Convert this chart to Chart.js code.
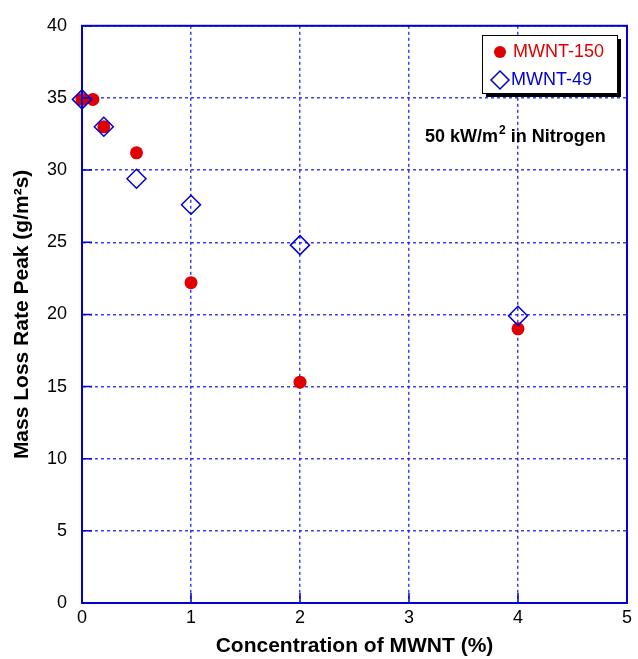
<!DOCTYPE html>
<html>
<head>
<meta charset="utf-8">
<script src="https://cdn.jsdelivr.net/npm/chart.js@4"></script>
<style>
  html, body { margin: 0; padding: 0; background: #fff; }
  #wrap { width: 638px; height: 659px; }
</style>
</head>
<body>
<div id="wrap"><canvas id="myChart" width="638" height="659"></canvas></div>
<script>
// data
const concA = [0, 0.1, 0.2, 0.5, 1, 2, 4];
const mlrA = [34.9, 34.9, 33.0, 31.2, 22.2, 15.3, 19.0];
const concB = [0, 0.2, 0.5, 1, 2, 4];
const mlrB = [34.9, 33.0, 29.4, 27.6, 24.8, 19.9];
const seriesNames = ['MWNT-150', 'MWNT-49'];
const xTicks = [0, 1, 2, 3, 4, 5];
const yTicks = [0, 5, 10, 15, 20, 25, 30, 35, 40];

const RED = '#e00000';
const BLUE = '#0000d0';
const GRID = 'rgba(30,30,230,0.85)';
const FONT = 'Arial, "Liberation Sans", Helvetica, sans-serif';

function toPoints(xs, ys) {
    return xs.map((x, i) => ({ x: x, y: ys[i] }));
}

// frame, inner tick marks, legend box and note
const extras = {
    id: 'extras',
    afterDraw(chart) {
        const ctx = chart.ctx;
        const a = chart.chartArea;
        const xs = chart.scales.x, ys = chart.scales.y;
        ctx.save();
        ctx.strokeStyle = BLUE;
        ctx.lineWidth = 2;
        ctx.setLineDash([]);
        ctx.strokeRect(a.left, a.top, a.right - a.left, a.bottom - a.top);
        ctx.beginPath();
        yTicks.forEach(v => {
            const py = ys.getPixelForValue(v);
            ctx.moveTo(a.left, py); ctx.lineTo(a.left + 10, py);
        });
        xTicks.forEach(v => {
            const px = xs.getPixelForValue(v);
            ctx.moveTo(px, a.bottom); ctx.lineTo(px, a.bottom - 10);
        });
        ctx.lineWidth = 1.5;
        ctx.stroke();

        // legend
        const lx = 482, ly = 35, lw = 135, lh = 58;
        ctx.fillStyle = '#000';
        ctx.fillRect(lx + 4, ly + 4, lw, lh);
        ctx.fillStyle = '#fff';
        ctx.fillRect(lx, ly, lw, lh);
        ctx.strokeStyle = '#000';
        ctx.lineWidth = 1;
        ctx.strokeRect(lx + 0.5, ly + 0.5, lw, lh);

        ctx.fillStyle = RED;
        ctx.beginPath();
        ctx.arc(lx + 18, ly + 17, 6, 0, Math.PI * 2);
        ctx.fill();
        ctx.strokeStyle = BLUE;
        ctx.lineWidth = 1.5;
        ctx.beginPath();
        const dx = lx + 18, dy = ly + 45, r = 9;
        ctx.moveTo(dx, dy - r); ctx.lineTo(dx + r, dy); ctx.lineTo(dx, dy + r); ctx.lineTo(dx - r, dy); ctx.closePath();
        ctx.stroke();

        ctx.font = '18px ' + FONT;
        ctx.textBaseline = 'middle';
        ctx.textAlign = 'left';
        ctx.fillStyle = RED;
        ctx.fillText(seriesNames[0], lx + 31, ly + 17);
        ctx.fillStyle = BLUE;
        ctx.fillText(seriesNames[1], lx + 29, ly + 45);

        // note
        ctx.fillStyle = '#000';
        ctx.textBaseline = 'alphabetic';
        ctx.font = 'bold 18px ' + FONT;
        let tx = 425;
        const base = 142;
        ctx.fillText('50 kW/m', tx, base);
        tx += ctx.measureText('50 kW/m').width;
        ctx.font = 'bold 12px ' + FONT;
        ctx.fillText('2', tx + 1, base - 8);
        tx += ctx.measureText('2').width + 1;
        ctx.font = 'bold 18px ' + FONT;
        ctx.fillText(' in Nitrogen', tx, base);
        ctx.restore();
    }
};

const ctx = document.getElementById('myChart').getContext('2d');
const myChart = new Chart(ctx, {
    type: 'scatter',
    data: {
        datasets: [{
            label: seriesNames[1],
            data: toPoints(concB, mlrB),
            pointStyle: 'rectRot',
            pointRadius: 9.5,
            pointBorderWidth: 1.5,
            borderColor: BLUE,
            backgroundColor: 'rgba(0,0,0,0)',
            clip: false
        }, {
            label: seriesNames[0],
            data: toPoints(concA, mlrA),
            pointStyle: 'circle',
            pointRadius: 6.5,
            pointBorderWidth: 0,
            borderColor: RED,
            backgroundColor: RED,
            clip: false
        }]
    },
    options: {
        responsive: false,
        animation: false,
        layout: { padding: { top: 19, right: 5, left: 0, bottom: 0 } },
        plugins: {
            legend: { display: false },
            tooltip: { enabled: false }
        },
        scales: {
            x: {
                type: 'linear',
                min: 0,
                max: 5,
                afterBuildTicks: (scale) => { scale.ticks = xTicks.map(v => ({ value: v })); },
                afterFit: (scale) => { scale.height = 56; },
                ticks: { color: '#000', padding: 4, font: { size: 18, family: FONT } },
                grid: { color: GRID, drawTicks: false, lineWidth: 1.5 },
                border: { display: true, color: BLUE, width: 2, dash: [3, 3] },
                title: {
                    display: true,
                    text: 'Concentration of MWNT (%)',
                    color: '#000',
                    font: { size: 21, weight: 'bold', family: FONT },
                    padding: { top: 4, bottom: 0 }
                }
            },
            y: {
                min: 0,
                max: 40,
                afterBuildTicks: (scale) => { scale.ticks = yTicks.map(v => ({ value: v })); },
                afterFit: (scale) => { scale.width = 82; },
                ticks: { color: '#000', padding: 15, font: { size: 18, family: FONT } },
                grid: { color: GRID, drawTicks: false, lineWidth: 1.5 },
                border: { display: true, color: BLUE, width: 2, dash: [3, 3] },
                title: {
                    display: true,
                    text: 'Mass Loss Rate Peak (g/m\u00b2s)',
                    color: '#000',
                    font: { size: 21, weight: 'bold', family: FONT },
                    padding: { top: 10, bottom: 0 }
                }
            }
        }
    },
    plugins: [extras]
});
</script>
</body>
</html>
